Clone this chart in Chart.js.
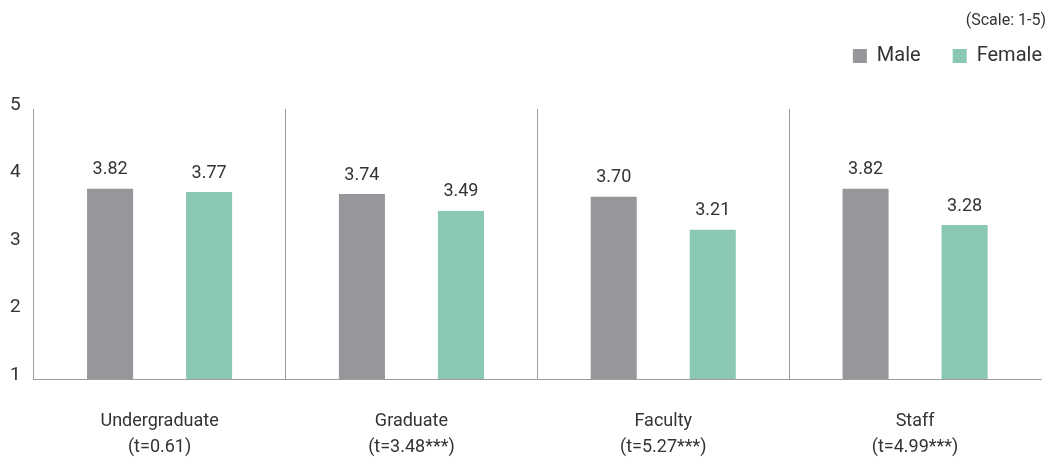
<!DOCTYPE html>
<html><head><meta charset="utf-8">
<script src="https://cdn.jsdelivr.net/npm/chart.js@4/dist/chart.umd.min.js"></script>
<style>html,body{margin:0;padding:0;background:#fff;} #wrap{width:1052px;height:460px;position:relative;}</style>
</head><body><div id="wrap"><canvas id="c"></canvas></div>
<script>
const categories = [['Undergraduate','(t=0.61)'],['Graduate','(t=3.48***)'],['Faculty','(t=5.27***)'],['Staff','(t=4.99***)']];
const maleValues = [3.82, 3.74, 3.70, 3.82];
const femaleValues = [3.77, 3.49, 3.21, 3.28];
const seriesNames = ['Male', 'Female'];
const yTicks = [1, 2, 3, 4, 5];
const scaleNote = '(Scale: 1-5)';

const TEXT = '#333333';
const LINE = '#9d9d9d';
Chart.defaults.font.family = 'Roboto, "Noto Sans", "DejaVu Sans", sans-serif';
Chart.defaults.color = TEXT;

const valueLabels = {
  id: 'valueLabels',
  afterDatasetsDraw(chart) {
    const ctx = chart.ctx;
    ctx.save();
    ctx.font = '18px Roboto, "Noto Sans", sans-serif';
    ctx.fillStyle = TEXT;
    ctx.textAlign = 'center';
    ctx.textBaseline = 'middle';
    chart.data.datasets.forEach((ds, di) => {
      chart.getDatasetMeta(di).data.forEach((el, i) => {
        ctx.fillText(ds.data[i].toFixed(2), el.x, el.y - 19);
      });
    });
    ctx.restore();
  }
};

const layoutTweak = {
  id: 'layoutTweak',
  beforeLayout(chart) {
    const lg = chart.legend;
    if (lg && !lg._patched) {
      const f = lg.fit;
      lg.fit = function () { f.call(this); this.height += 33; };
      lg._patched = true;
    }
  },
  afterLayout(chart) {
    if (chart.legend) { chart.legend.left += 33; chart.legend.right += 33; }
    if (chart.titleBlock) { chart.titleBlock.left += 5; chart.titleBlock.right += 5; }
  }
};

new Chart(document.getElementById('c'), {
  type: 'bar',
  data: {
    labels: categories,
    datasets: [
      { label: seriesNames[0], data: maleValues, backgroundColor: '#96979b', borderWidth: 0,
        barPercentage: 0.465, categoryPercentage: 0.7865 },
      { label: seriesNames[1], data: femaleValues, backgroundColor: '#8bc8b3', borderWidth: 0,
        barPercentage: 0.465, categoryPercentage: 0.7865 }
    ]
  },
  options: {
    responsive: true,
    maintainAspectRatio: false,
    animation: false,
    devicePixelRatio: 1,
    layout: { padding: { left: 10, right: 11, top: 0, bottom: 0 } },
    plugins: {
      title: {
        display: true, text: scaleNote, align: 'end', color: TEXT,
        font: { size: 16, weight: 'normal' },
        padding: { top: 11, bottom: -16.2 }
      },
      legend: {
        display: true, position: 'top', align: 'end',
        labels: { boxWidth: 14, boxHeight: 14, padding: 32, color: TEXT, font: { size: 20 } }
      },
      tooltip: { enabled: false }
    },
    scales: {
      x: {
        afterFit: (s) => { s.height -= 29; },
        grid: {
          display: true, drawTicks: false, offset: true, lineWidth: 1,
          color: (c) => (c.index === undefined || c.index === 0) ? 'rgba(0,0,0,0)' : LINE
        },
        border: { display: true, color: LINE, width: 1 },
        ticks: { padding: 29, color: TEXT, font: { size: 18, lineHeight: 1.444 } }
      },
      y: {
        min: 1, max: 5,
        afterBuildTicks: (s) => { s.ticks = yTicks.map(v => ({ value: v })); },
        afterFit: (s) => { s.width -= 13; },
        grid: { display: false, drawTicks: false },
        border: { display: true, color: LINE, width: 1 },
        ticks: { padding: 13, labelOffset: -4, color: TEXT, font: { size: 19 } }
      }
    }
  },
  plugins: [valueLabels, layoutTweak]
});
</script>
</body></html>
